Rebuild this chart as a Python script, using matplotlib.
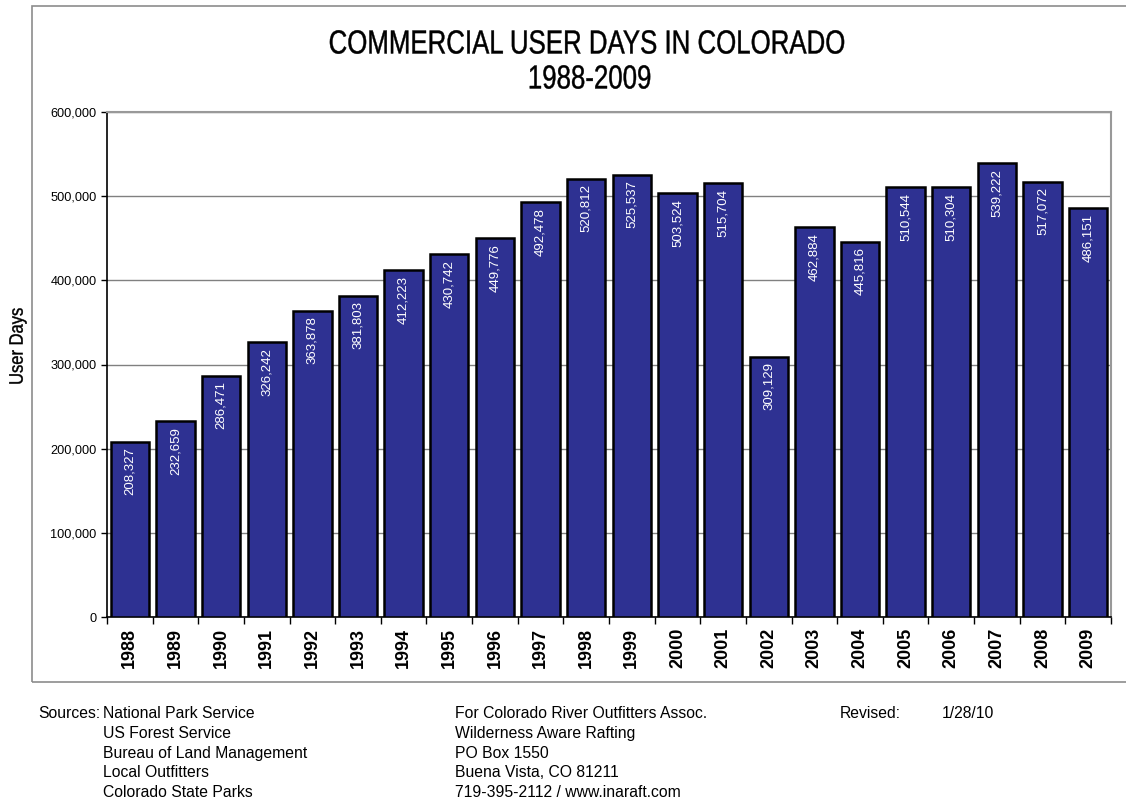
import matplotlib.pyplot as plt
from matplotlib.patches import Rectangle, PathPatch
from matplotlib.textpath import TextPath
from matplotlib.font_manager import FontProperties
from matplotlib.transforms import Affine2D
from matplotlib.ticker import FuncFormatter, FixedLocator
import numpy as np


YEARS = [str(y) for y in range(1988, 2010)]
USER_DAYS = [
    208327, 232659, 286471, 326242, 363878, 381803, 412223, 430742,
    449776, 492478, 520812, 525537, 503524, 515704, 309129, 462884,
    445816, 510544, 510304, 539222, 517072, 486151,
]

SOURCES = [
    "National Park Service",
    "US Forest Service",
    "Bureau of Land Management",
    "Local Outfitters",
    "Colorado State Parks",
]
CONTACT = [
    "For Colorado River Outfitters Assoc.",
    "Wilderness Aware Rafting",
    "PO Box 1550",
    "Buena Vista, CO 81211",
    "719-395-2112 / www.inaraft.com",
]
REVISED = "1/28/10"

BAR_COLOR = "#2E3192"
SANS = ["Liberation Sans", "DejaVu Sans"]

plt.rcParams["font.family"] = SANS

W, H = 1126, 801
DPI = 100
fig = plt.figure(figsize=(W / DPI, H / DPI), dpi=DPI)
px = Affine2D().scale(1 / W, 1 / H) + fig.transFigure


def narrow_text(s, cx, cy, size, squeeze=0.8, rotation=0):
    """Condensed text centred at pixel (cx, cy) measured from the top-left."""
    tp = TextPath((0, 0), s, size=size * DPI / 72,
                  prop=FontProperties(family="Liberation Sans"))
    ext = tp.get_extents()
    t = (Affine2D()
         .translate(-(ext.x0 + ext.x1) / 2, -(ext.y0 + ext.y1) / 2)
         .scale(squeeze, 1)
         .rotate_deg(rotation)
         .translate(cx, H - cy))
    fig.patches.append(PathPatch(t.transform_path(tp), transform=px,
                                 facecolor="black", edgecolor="black",
                                 linewidth=0.3))


# outer frame around the chart block
fig.patches.append(Rectangle((32, H - 682), 1200, 682 - 6, transform=px,
                             fill=False, edgecolor="#8c8c8c", linewidth=1.2))

ax = fig.add_axes([107 / W, 1 - 617 / H, (1111 - 107) / W, (617 - 112) / H])

x = np.arange(len(YEARS))
ax.bar(x, USER_DAYS, width=0.84, color=BAR_COLOR, edgecolor="black",
       linewidth=1.8, zorder=3)

for xi, v in zip(x, USER_DAYS):
    ax.annotate(f"{v:,}", (xi, v), xytext=(0, -4), textcoords="offset points",
                rotation=90, ha="center", va="top", color="white",
                fontsize=9.5, zorder=4)

ax.set_xlim(-0.5, len(YEARS) - 0.5)
ax.set_ylim(0, 600000)
ax.set_yticks(np.arange(0, 600001, 100000))
ax.yaxis.set_major_formatter(FuncFormatter(lambda v, _: f"{int(v):,}"))
ax.tick_params(axis="y", labelsize=9.2, length=4, width=1, direction="out")

ax.set_xticks(x)
ax.set_xticklabels(YEARS, rotation=90, fontsize=13, fontweight="bold")
ax.tick_params(axis="x", length=0, pad=8)
ax.xaxis.set_minor_locator(FixedLocator(np.arange(-0.5, len(YEARS), 1.0)))
ax.tick_params(axis="x", which="minor", length=5, width=1, direction="out")

ax.grid(axis="y", color="#808080", linewidth=1, zorder=0)
ax.set_axisbelow(True)
for side in ("top", "right"):
    ax.spines[side].set_color("#999999")
    ax.spines[side].set_linewidth(1.5)
for side in ("left", "bottom"):
    ax.spines[side].set_color("black")
    ax.spines[side].set_linewidth(1.2)

narrow_text("User Days", 18, 346, 14, squeeze=0.85, rotation=90)
narrow_text("COMMERCIAL USER DAYS IN COLORADO", 587, 42, 24, squeeze=0.775)
narrow_text("1988-2009", 590, 77, 24, squeeze=0.775)

# footer notes
y0, step = 714, 19.6
fs = 11.3
fig.text(38 / W, 1 - y0 / H, "Sources:", ha="left", va="center", fontsize=fs)
for i, s in enumerate(SOURCES):
    fig.text(103 / W, 1 - (y0 + i * step) / H, s, ha="left", va="center",
             fontsize=fs)
for i, s in enumerate(CONTACT):
    fig.text(455 / W, 1 - (y0 + i * step) / H, s, ha="left", va="center",
             fontsize=fs)
fig.text(840 / W, 1 - y0 / H, "Revised:", ha="left", va="center", fontsize=fs)
fig.text(942 / W, 1 - y0 / H, REVISED, ha="left", va="center", fontsize=fs)

fig.savefig("out.png", dpi=DPI)
